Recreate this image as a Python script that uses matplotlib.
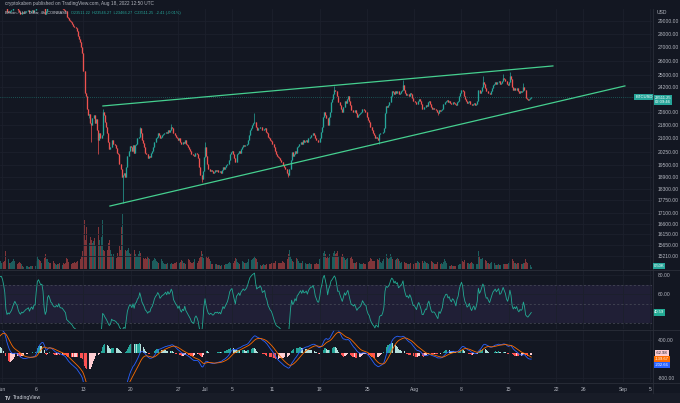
"""BTCUSD 4h chart (TradingView style): candles + volume, rising wedge lines, RSI and MACD panes."""

import matplotlib
matplotlib.use("Agg")
import matplotlib.pyplot as plt
import matplotlib.dates as mdates
from matplotlib.lines import Line2D
from matplotlib.patches import Rectangle
from matplotlib.ticker import FixedLocator, NullLocator, FuncFormatter
import numpy as np
import pandas as pd

# ---- data (4h candles, Coinbase) ----
START = "2022-05-25 00:00"
# one line per day, 6 closes (USD)
CLOSES = [
    29480, 29620, 29700, 29550, 29750, 29650,  # May 25
    29400, 29150, 28900, 28300, 28900, 29200,
    29300, 29100, 28800, 28500, 28700, 28600,
    28700, 28800, 28900, 28850, 29000, 29000,
    29100, 29200, 29300, 29250, 29400, 29450,
    29800, 30300, 30600, 30800, 31400, 31700,
    31600, 31750, 31900, 31650, 31800, 31800,  # May 31
    31700, 31500, 31200, 30200, 29700, 29800,  # Jun 1
    29700, 29800, 29900, 30100, 30300, 30450,
    30300, 30200, 29900, 29700, 29600, 29700,
    29650, 29700, 29750, 29800, 29820, 29860,
    29700, 29800, 29850, 29750, 29900, 29900,
    30500, 31300, 31500, 31400, 31300, 31370,
    31100, 30200, 29600, 29800, 30900, 31130,
    30900, 30600, 30500, 30300, 30200, 30200,
    30300, 30200, 30400, 30150, 30100, 30100,
    30000, 29900, 29800, 29300, 29200, 29090,  # Jun 10
    29000, 28900, 28800, 28600, 28500, 28420,
    28200, 27800, 27600, 27400, 27000, 26570,
    25300, 23800, 23600, 22800, 22400, 22480,
    21900, 21800, 22200, 22400, 21900, 22130,
    21500, 20900, 21300, 21000, 21200, 22580,
    22400, 22000, 21700, 21300, 20800, 20380,
    20500, 20900, 20700, 20700, 20600, 20470,
    20200, 20100, 19600, 19300, 18900, 19010,
    19100, 18900, 19400, 20000, 20300, 20550,
    20500, 20300, 20600, 20200, 20600, 20700,  # Jun 20
    21000, 21100, 21600, 21300, 20900, 20720,
    20500, 20200, 20100, 19900, 20000, 19970,
    20200, 20300, 20500, 20800, 21000, 21090,
    21300, 21200, 21000, 21100, 21200, 21230,
    21300, 21400, 21300, 21500, 21400, 21490,
    21700, 21600, 21300, 21200, 21100, 21030,
    20900, 21000, 20800, 20700, 20800, 20740,
    20900, 20700, 20600, 20500, 20400, 20280,
    20100, 20050, 20000, 20150, 20200, 20100,
    19900, 19400, 19000, 18800, 19200, 19930,  # Jun 30
    20500, 20000, 19600, 19300, 19200, 19270,  # Jul 1
    19200, 19100, 19150, 19250, 19200, 19240,
    19150, 19200, 19100, 19250, 19400, 19300,
    19400, 19500, 19600, 19800, 20100, 20230,
    20300, 20100, 19900, 19700, 20100, 20190,
    20300, 20200, 20400, 20500, 20600, 20550,
    20600, 20700, 20900, 21200, 21500, 21640,
    21800, 21900, 22000, 21700, 21500, 21590,
    21600, 21700, 21650, 21500, 21550, 21600,
    21400, 21300, 21100, 21000, 20900, 20850,  # Jul 10
    20700, 20500, 20300, 20100, 20000, 19950,
    19900, 19800, 19700, 19500, 19400, 19330,
    19300, 19100, 19000, 19300, 19800, 20210,
    20000, 20100, 20300, 20200, 20500, 20570,
    20700, 20800, 20700, 20900, 20800, 20830,
    20900, 20800, 21000, 21100, 21200, 21190,
    21300, 21200, 21000, 20900, 20800, 20790,
    21000, 21400, 21700, 22300, 22600, 22420,
    22200, 21800, 22300, 22600, 23200, 23400,
    23700, 24000, 23900, 23600, 23200, 23230,  # Jul 20
    23000, 22800, 22600, 22900, 23300, 23160,
    23400, 23600, 23300, 23000, 22700, 22680,
    22600, 22700, 22500, 22300, 22400, 22450,
    22500, 22600, 22800, 22700, 22600, 22580,
    22300, 22100, 22000, 21700, 21500, 21310,
    21200, 21000, 21100, 21000, 20900, 21250,
    21300, 21300, 21400, 21600, 22500, 22950,
    22900, 23000, 23200, 23600, 23900, 23850,
    23700, 23900, 23800, 23900, 23700, 23780,
    23900, 24000, 24300, 24000, 23800, 23640,  # Jul 30
    23700, 23600, 23800, 23700, 23500, 23300,
    23300, 23200, 23100, 23300, 23400, 23270,  # Aug 1
    23100, 22800, 22800, 22900, 23000, 22980,
    23200, 23300, 23100, 22900, 22800, 22820,
    22800, 22700, 22600, 22500, 22700, 22620,
    22700, 22800, 23100, 23200, 23300, 23310,
    23200, 23250, 23150, 23100, 23200, 23170,
    23100, 23000, 23200, 23300, 23600, 23810,
    24000, 23900, 23600, 23400, 23300, 23160,
    23200, 23300, 23100, 23000, 23100, 23160,
    23000, 23100, 23300, 24000, 23800, 23950,  # Aug 10
    24200, 24500, 24400, 24100, 23900, 23930,
    23800, 23700, 23900, 24100, 24300, 24400,
    24500, 24400, 24500, 24600, 24400, 24440,
    24600, 24800, 24700, 24600, 24400, 24310,
    24500, 24900, 24700, 24200, 24000, 24100,
    24000, 24100, 23900, 23800, 23900, 23850,
    23900, 24200, 24000, 23500, 23400, 23340,
    23400, 23450, 23511.25,                    # Aug 18 (partial)
]
# 4h volume, hundreds of BTC
VOLUMES = [
    15, 18, 20, 22, 20, 15,  # May 25
    18, 20, 25, 45, 35, 20,
    20, 22, 25, 30, 25, 18,
    10, 9, 8, 10, 12, 9,
    8, 9, 10, 9, 12, 10,
    20, 30, 25, 22, 35, 28,
    25, 20, 22, 28, 25, 18,
    20, 22, 25, 55, 40, 30,  # Jun 1
    20, 18, 22, 25, 30, 25,
    18, 15, 20, 22, 20, 15,
    8, 7, 8, 9, 8, 7,
    7, 8, 9, 10, 11, 9,
    25, 40, 30, 28, 25, 20,
    20, 35, 45, 30, 30, 22,
    20, 18, 22, 25, 20, 15,
    12, 14, 15, 18, 15, 12,
    18, 16, 20, 35, 30, 22,  # Jun 10
    15, 14, 18, 20, 22, 18,
    22, 25, 24, 30, 40, 55,
    110, 150, 90, 130, 120, 80,
    100, 90, 80, 85, 95, 70,
    110, 130, 90, 70, 100, 150,
    60, 55, 50, 60, 80, 90,
    60, 45, 40, 45, 40, 35,
    50, 40, 70, 60, 130, 170,
    80, 60, 55, 60, 65, 50,
    45, 50, 55, 60, 45, 40,  # Jun 20
    40, 45, 55, 50, 45, 35,
    30, 35, 30, 40, 35, 30,
    25, 25, 28, 35, 30, 25,
    22, 20, 25, 30, 25, 20,
    15, 14, 16, 20, 18, 15,
    20, 15, 14, 18, 20, 22,
    20, 18, 22, 28, 25, 20,
    18, 16, 20, 30, 28, 22,
    20, 18, 22, 30, 25, 20,
    25, 35, 40, 55, 45, 35,  # Jun 30
    50, 40, 35, 40, 30, 25,  # Jul 1
    15, 14, 12, 15, 14, 12,
    12, 11, 10, 12, 15, 13,
    15, 14, 16, 20, 22, 18,
    22, 20, 25, 35, 30, 22,
    18, 16, 20, 25, 22, 18,
    18, 20, 22, 30, 35, 28,
    30, 35, 40, 35, 30, 22,
    12, 12, 10, 12, 14, 12,
    12, 14, 12, 15, 16, 18,  # Jul 10
    20, 18, 20, 25, 22, 18,
    20, 18, 20, 25, 22, 20,
    25, 30, 45, 60, 40, 30,
    25, 22, 25, 35, 30, 25,
    20, 18, 20, 25, 22, 18,
    15, 14, 16, 18, 15, 14,
    15, 14, 16, 18, 16, 15,
    30, 35, 40, 50, 55, 45,
    35, 40, 35, 45, 55, 40,
    50, 55, 45, 50, 55, 40,  # Jul 20
    35, 40, 45, 40, 35, 28,
    30, 35, 30, 35, 40, 30,
    20, 18, 20, 22, 20, 18,
    15, 14, 16, 18, 15, 14,
    20, 22, 24, 35, 30, 25,
    25, 24, 22, 30, 28, 35,
    22, 20, 25, 30, 60, 45,
    35, 30, 35, 45, 40, 30,
    30, 28, 30, 35, 30, 25,
    20, 22, 25, 22, 20, 18,  # Jul 30
    15, 14, 16, 18, 16, 15,
    20, 18, 20, 25, 22, 18,  # Aug 1
    22, 25, 20, 25, 22, 18,
    18, 16, 20, 25, 22, 18,
    15, 14, 16, 22, 18, 15,
    18, 16, 22, 30, 25, 18,
    10, 9, 10, 11, 10, 9,
    8, 9, 10, 11, 14, 15,
    30, 25, 22, 28, 22, 18,
    18, 16, 18, 22, 18, 15,
    15, 14, 16, 55, 40, 30,  # Aug 10
    30, 35, 30, 28, 25, 20,
    18, 16, 18, 22, 20, 18,
    12, 11, 12, 14, 12, 11,
    12, 14, 15, 16, 15, 14,
    18, 25, 22, 30, 25, 20,
    18, 16, 18, 20, 18, 15,
    15, 20, 18, 30, 22, 18,
    14, 12, 5,
]
# visible wick extremes
WICK_HIGH = {
    "2022-06-15 20:00": 22800, "2022-06-21 08:00": 21700, "2022-06-26 00:00": 21860,
    "2022-07-01 00:00": 20800, "2022-07-08 08:00": 22500, "2022-07-20 04:00": 24280,
    "2022-07-30 08:00": 24650, "2022-08-11 04:00": 24900, "2022-08-14 04:00": 25050,
    "2022-08-15 04:00": 25200, "2022-08-17 04:00": 24450,
}
WICK_LOW = {
    "2022-06-13 20:00": 22200, "2022-06-14 04:00": 20800, "2022-06-15 04:00": 20100,
    "2022-06-18 20:00": 17600, "2022-06-30 12:00": 18630, "2022-07-13 08:00": 18900,
    "2022-07-26 20:00": 20700, "2022-08-04 12:00": 22400,
}
# wedge lines (two anchor points each)
UPPER_T = ["2022-06-15 21:00", "2022-08-21 13:00"]
UPPER_P = [22960, 25630]
LOWER_T = ["2022-06-16 22:00", "2022-09-01 05:00"]
LOWER_P = [17440, 24260]

PRICE_TICKS = [29000, 28000, 27000, 26000, 25000, 24200, 22600, 21800, 21000, 20250,
               19500, 18900, 18300, 17750, 17100, 16600, 16150, 15650, 15210]
TIME_TICKS = ["2022-06-01", "2022-06-06", "2022-06-13", "2022-06-20", "2022-06-27",
              "2022-07-01", "2022-07-05", "2022-07-11", "2022-07-18", "2022-07-25",
              "2022-08-01", "2022-08-08", "2022-08-15", "2022-08-22", "2022-08-26",
              "2022-09-01", "2022-09-05"]
TIME_LABELS = ["Jun", "6", "13", "20", "27", "Jul", "5", "11", "18", "25",
               "Aug", "8", "15", "22", "26", "Sep", "5"]

# ---- style ----
W, H = 680, 403
BG = "#131722"
GRID = "#1c202c"
SEP = "#2a2e39"
TXT = "#b2b5be"
UP = "#26a69a"
DOWN = "#ef5350"
WEDGE = "#45cf8f"
FS = 3.6


def fx(px):
    return px / W


def fy(py):
    return 1 - py / H


def main() -> None:
    plt.rcParams["font.family"] = ["Liberation Sans", "DejaVu Sans"]
    assert len(CLOSES) == len(VOLUMES)

    times = pd.date_range(START, periods=len(CLOSES), freq="4h")
    t = mdates.date2num(times)
    c = np.array(CLOSES, dtype=float)
    o = np.r_[c[0], c[:-1]]
    hi = np.maximum(o, c)
    lo = np.minimum(o, c)
    idx = {ts.strftime("%Y-%m-%d %H:%M"): i for i, ts in enumerate(times)}
    for k, v in WICK_HIGH.items():
        hi[idx[k]] = max(hi[idx[k]], v)
    for k, v in WICK_LOW.items():
        lo[idx[k]] = min(lo[idx[k]], v)
    up = c >= o
    cols = np.where(up, UP, DOWN)

    s = pd.Series(c)
    d = s.diff()
    ag = d.clip(lower=0).ewm(alpha=1 / 14, adjust=False).mean()
    al = (-d.clip(upper=0)).ewm(alpha=1 / 14, adjust=False).mean()
    rsi = (100 - 100 / (1 + ag / al)).to_numpy()
    macd = (s.ewm(span=12, adjust=False).mean() - s.ewm(span=26, adjust=False).mean())
    sig = macd.ewm(span=9, adjust=False).mean()
    hist = (macd - sig).to_numpy()
    macd = macd.to_numpy()
    sig = sig.to_numpy()

    fig = plt.figure(figsize=(W / 100, H / 100), dpi=100, facecolor=BG)
    cw = 652 / W
    ax = fig.add_axes([0, fy(269), cw, (269 - 9) / H])
    rax = fig.add_axes([0, fy(329), cw, (329 - 270) / H], sharex=ax)
    max_ = fig.add_axes([0, fy(382), cw, (382 - 330) / H], sharex=ax)

    x0 = mdates.date2num(pd.Timestamp("2022-07-01")) - 205 / 6.75
    x1 = x0 + 652 / 6.75

    # volume underneath the candles
    vax = ax.twinx()
    vax.bar(t, VOLUMES, width=0.8 / 6, color=cols, alpha=0.5, lw=0)
    vax.set_ylim(0, 800)
    vax.axis("off")
    ax.set_zorder(vax.get_zorder() + 1)

    for a in (ax, rax, max_):
        a.set_facecolor(BG)
        for sp in a.spines.values():
            sp.set_visible(False)
        a.grid(True, color=GRID, lw=0.6)
        a.tick_params(length=0, labelsize=FS, labelcolor=TXT)
        a.yaxis.tick_right()
    ax.patch.set_visible(False)
    vax.patch.set_visible(True)
    vax.patch.set_facecolor(BG)
    ax.set_xlim(x0, x1)

    # candles
    ax.set_yscale("log")
    ax.vlines(t, lo, hi, colors=cols, lw=0.5)
    ax.vlines(t, np.minimum(o, c), np.maximum(o, c), colors=cols, lw=0.95)
    ax.set_ylim(14668, 29972)
    ax.yaxis.set_major_locator(FixedLocator(PRICE_TICKS))
    ax.yaxis.set_minor_locator(NullLocator())
    ax.yaxis.set_major_formatter(FuncFormatter(lambda v, p: f"{v:.2f}"))
    ax.yaxis.tick_right()
    ax.tick_params(axis="y", pad=4, length=0, labelsize=FS, labelcolor=TXT)
    ax.tick_params(axis="x", labelbottom=False)

    ax.plot(mdates.date2num(pd.to_datetime(UPPER_T)), UPPER_P, color=WEDGE, lw=0.9)
    ax.plot(mdates.date2num(pd.to_datetime(LOWER_T)), LOWER_P, color=WEDGE, lw=0.9)
    ax.axhline(c[-1], color=UP, lw=0.5, ls=(0, (1, 2)), alpha=0.8)

    # RSI pane
    rax.axhspan(30, 70, color="#7e57c2", alpha=0.13, lw=0)
    for lvl in (70, 50, 30):
        rax.axhline(lvl, color="#4a4d5a", lw=0.5, ls=(0, (3, 3)))
    rax.plot(t, rsi, color="#22ab94", lw=0.6)
    rax.set_ylim(23.2, 85.3)
    rax.set_yticks([80, 60])
    rax.set_yticklabels(["80.00", "60.00"])
    rax.tick_params(axis="y", pad=4)
    rax.tick_params(axis="x", labelbottom=False)

    # MACD pane
    prev = np.r_[hist[0], hist[:-1]]
    hcol = np.where(hist >= 0,
                    np.where(prev < hist, "#26a69a", "#b2dfdb"),
                    np.where(prev < hist, "#ffcdd2", "#ff5252"))
    max_.bar(t, hist, width=0.85 / 6, color=hcol, lw=0)
    max_.plot(t, macd, color="#2962ff", lw=0.6)
    max_.plot(t, sig, color="#ff6d00", lw=0.6)
    max_.set_ylim(-926, 716)
    max_.set_yticks([400, -800])
    max_.set_yticklabels(["400.00", "-800.00"])
    max_.tick_params(axis="y", pad=4)
    max_.set_xticks(mdates.date2num(pd.to_datetime(TIME_TICKS)))
    max_.set_xticklabels(TIME_LABELS)
    max_.tick_params(axis="x", pad=3.5)

    # separators and bottom strip
    for y in (269.5, 329.5, 382.5):
        fig.add_artist(Line2D([0, 1], [fy(y), fy(y)], color=SEP, lw=0.6))
    fig.add_artist(Line2D([fx(652.5)] * 2, [fy(9), fy(393)], color=SEP, lw=0.6))
    fig.add_artist(Rectangle((0, 0), 1, fy(393), color="#181c27", lw=0))
    fig.text(fx(5), fy(398), "TV", fontsize=3.6, color="#d1d4dc", weight="bold", va="center")
    fig.text(fx(13), fy(398), "TradingView", fontsize=3.6, color="#d1d4dc", va="center")

    # header
    fig.text(fx(5), fy(4), "cryptokaben published on TradingView.com, Aug 18, 2022 12:50 UTC",
             fontsize=3.4, color=TXT, va="center")
    fig.text(fx(5), fy(13), "Bitcoin / U.S. Dollar, 4h, COINBASE",
             fontsize=2.8, color="#d1d4dc", va="center")
    fig.text(fx(71), fy(13), "O23511.22  H23546.27  L23466.27  C23511.25  -2.41 (-0.01%)",
             fontsize=2.8, color=UP, va="center")
    fig.text(fx(657), fy(13), "USD", fontsize=FS, color=TXT, va="center")

    # value boxes on the scales
    box = dict(boxstyle="square,pad=0.25", fc=UP, ec="none")
    ax.text(644 / 652, c[-1], "BTCUSD", transform=ax.get_yaxis_transform(), fontsize=3.0,
            color="white", ha="center", va="center", bbox=box)
    fig.text(fx(663), fy(100), f"{c[-1]:.2f}\n02:09:46", fontsize=3.0, color="white",
             ha="center", va="center", linespacing=1.0, bbox=box)
    fig.text(fx(659), fy(266), f"{VOLUMES[-1] / 10:.2f}K", fontsize=3.0, color="white",
             ha="center", va="center", bbox=box)
    rax.text(659 / 652, rsi[-1], f"{rsi[-1]:.2f}", transform=rax.get_yaxis_transform(),
             fontsize=3.0, color="white", ha="center", va="center",
             bbox=dict(boxstyle="square,pad=0.25", fc="#22ab94", ec="none"))
    for py, val, fc, tc in ((353, hist[-1], "#ffcdd2", "#131722"),
                            (359, sig[-1], "#ff6d00", "white"),
                            (365, macd[-1], "#2962ff", "white")):
        fig.text(fx(662), fy(py), f"{val:.2f}", fontsize=3.0, color=tc, ha="center",
                 va="center", bbox=dict(boxstyle="square,pad=0.25", fc=fc, ec="none"))

    fig.savefig("out.png", dpi=100, facecolor=BG)


if __name__ == "__main__":
    main()
